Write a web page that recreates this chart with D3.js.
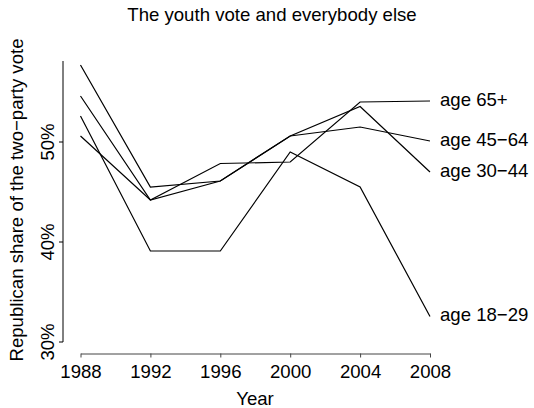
<!DOCTYPE html>
<html><head><meta charset="utf-8">
<script src="https://cdn.jsdelivr.net/npm/d3@7"></script>
<style>body{margin:0;background:#fff}text{font-family:"Liberation Sans",Arial,sans-serif;fill:#000}</style>
</head><body><svg id="c" width="534" height="408"></svg>
<script>
const years = [1988, 1992, 1996, 2000, 2004, 2008];
const age18_29 = [52.6, 39.1, 39.1, 49.0, 45.5, 32.55];
const age30_44 = [54.6, 44.2, 46.1, 50.6, 53.55, 47.0];
const age45_64 = [57.7, 45.5, 46.1, 50.6, 51.5, 50.1];
const age65p   = [50.6, 44.2, 47.85, 48.0, 54.0, 54.1];
const seriesNames = ["age 18−29", "age 30−44", "age 45−64", "age 65+"];
const seriesValues = [age18_29, age30_44, age45_64, age65p];
const yTicks = [30, 40, 50];
const yTickLabels = ["30%", "40%", "50%"];

const svg = d3.select("#c");
const x = d3.scaleLinear().domain([1988, 2008]).range([80.5, 430]);
const y = d3.scaleLinear().domain([30, 50]).range([342, 142]);
const fs = 18.6;

// title
svg.append("text").attr("x", 272).attr("y", 21).attr("text-anchor", "middle")
  .style("font-size", fs + "px").text("The youth vote and everybody else");

// lines
const line = d3.line().x((d, i) => x(years[i])).y(d => y(d));
seriesValues.forEach((vals, k) => {
  svg.append("path").attr("d", line(vals)).attr("fill", "none")
    .attr("stroke", "#000").attr("stroke-width", 1.2);
  svg.append("text").attr("x", 440).attr("y", y(vals[vals.length - 1]))
    .attr("dy", "0.25em").style("font-size", fs + "px").text(seriesNames[k]);
});

// x axis
const xAxis = svg.append("g").attr("transform", "translate(0,353.5)")
  .call(d3.axisBottom(x).tickValues(years).tickFormat(d3.format("d")).tickSizeOuter(0).tickSizeInner(4).tickPadding(5));
xAxis.select(".domain").attr("stroke", "#444");
xAxis.selectAll(".tick line").attr("stroke", "#444");
xAxis.selectAll("text").attr("dy", null).attr("y", 24).style("font-size", fs + "px")
  .style("font-family", '"Liberation Sans",Arial,sans-serif').style("fill", "#000");

// y axis
const yg = svg.append("g").attr("transform", "translate(63,0)");
yg.append("line").attr("x1", 0).attr("x2", 0).attr("y1", y(30)).attr("y2", y(58.1)).attr("stroke", "#000");
yTicks.forEach((t, i) => {
  yg.append("line").attr("x1", -4).attr("x2", 0).attr("y1", y(t)).attr("y2", y(t)).attr("stroke", "#000");
  yg.append("text").attr("transform", `translate(-9.5,${y(t)}) rotate(-90)`)
    .attr("text-anchor", "middle").style("font-size", fs + "px").text(yTickLabels[i]);
});

// axis titles
svg.append("text").attr("x", 255).attr("y", 405).attr("text-anchor", "middle")
  .style("font-size", fs + "px").text("Year");
svg.append("text").attr("transform", "translate(23,200) rotate(-90)").attr("text-anchor", "middle")
  .style("font-size", fs + "px").text("Republican share of the two−party vote");
</script></body></html>
